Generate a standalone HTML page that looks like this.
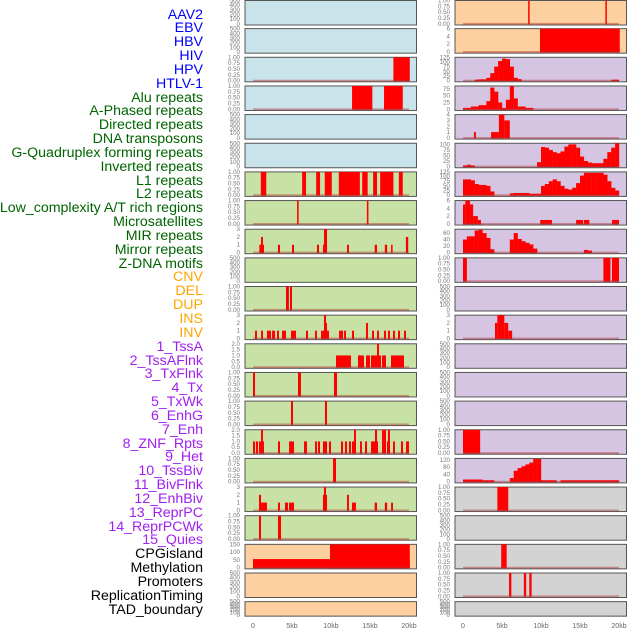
<!DOCTYPE html>
<html><head><meta charset="utf-8">
<style>
html,body{margin:0;padding:0;background:#fff;}
#wrap{position:relative;width:630px;height:630px;overflow:hidden;font-family:"Liberation Sans",sans-serif;}
.lbl{position:absolute;right:427px;font-size:14.2px;line-height:14px;white-space:nowrap;}
svg{position:absolute;left:0;top:0;}
</style></head>
<body>
<div id="wrap">
<div id="labels"></div>
<svg id="chart" width="630" height="630"></svg>
</div>
<script>
// ---------- track labels ----------
const labelNames = ["AAV2","EBV","HBV","HIV","HPV","HTLV-1","Alu repeats","A-Phased repeats","Directed repeats","DNA transposons","G-Quadruplex forming repeats","Inverted repeats","L1 repeats","L2 repeats","Low_complexity A/T rich regions","Microsatellites","MIR repeats","Mirror repeats","Z-DNA motifs","CNV","DEL","DUP","INS","INV","1_TssA","2_TssAFlnk","3_TxFlnk","4_Tx","5_TxWk","6_EnhG","7_Enh","8_ZNF_Rpts","9_Het","10_TssBiv","11_BivFlnk","12_EnhBiv","13_ReprPC","14_ReprPCWk","15_Quies","CPGisland","Methylation","Promoters","ReplicationTiming","TAD_boundary"];
const labelGroups = [6,13,5,15,5];
const groupColors = ["#0000ff","#006400","#ffa500","#a020f0","#000000"];

// ---------- x axis ----------
const xTicks = [0,5,10,15,20];
const xTickLabels = ["0","5kb","10kb","15kb","20kb"];

// ---------- panel backgrounds ----------
const leftBg = ["blue","blue","blue","blue","blue","blue","green","green","green","green","green","green","green","green","green","green","green","green","green","orange","orange","orange"];
const rightBg = ["orange","orange","purple","purple","purple","purple","purple","purple","purple","purple","purple","purple","purple","purple","purple","purple","purple","gray","gray","gray","gray","gray"];

// ---------- left column segments [startKb, endKb, value] ----------
const L_HIV = [[18.0,20.1,1]];
const L_HPV = [[12.7,15.3,1],[16.8,19.2,1]];
const L_L1 = [[1.0,1.7,1],[6.3,6.8,1],[8.1,8.6,1],[9.2,10.1,1],[11.0,13.7,1],[14.0,14.7,1],[15.4,15.9,1],[16.3,18.0,1],[18.7,19.2,1]];
const L_L2 = [[5.65,5.85,1],[14.6,14.8,1]];
const L_MIR = [[0.81,1.41,1],[1.03,1.28,2],[3.2,3.46,1],[5.0,5.26,1],[8.2,8.46,1],[8.97,9.49,1],[9.1,9.49,3],[12.05,12.3,1],[15.6,15.9,1],[16.9,17.2,1],[17.7,17.9,1],[19.6,19.9,2]];
const L_ZDNA = [[4.23,4.6,1],[4.74,5.0,1]];
const L_CNV = [[0.26,0.51,1],[1.03,1.28,1],[1.79,2.31,1],[2.44,2.82,1],[3.08,3.33,1],[3.72,4.23,1],[4.87,5.51,1],[6.79,7.05,1],[7.95,8.2,1],[8.72,9.1,1],[9.1,9.36,3],[9.23,9.49,2],[9.49,9.74,1],[11.03,11.54,1],[11.67,11.92,1],[12.69,12.95,1],[14.49,14.74,2],[15.26,15.51,1],[15.9,16.15,1],[16.79,17.05,1],[17.3,17.56,1],[17.95,18.2,1],[18.59,18.85,1],[19.36,19.62,1]];
const L_DEL = [[10.64,12.56,1],[13.46,14.23,1],[14.49,15.0,1],[15.13,16.41,1],[15.9,16.15,2],[16.54,17.05,1],[17.69,19.36,1]];
const L_DUP = [[0.0,0.26,1],[5.77,6.15,1],[10.38,10.77,1]];
const L_INS = [[4.87,5.13,1],[9.23,9.49,1]];
const L_INV = [[0.0,0.26,1],[0.38,0.64,1],[0.77,1.41,1],[1.03,1.28,2],[3.2,3.46,1],[4.62,5.26,1],[6.54,6.92,1],[7.95,8.2,1],[8.33,8.59,1],[8.97,9.49,1],[9.74,10.0,1],[11.28,11.54,1],[11.79,12.05,1],[12.3,12.56,1],[12.69,13.2,1],[12.95,13.2,2],[13.72,13.97,1],[14.36,14.62,1],[15.13,16.03,1],[15.64,15.9,2],[16.54,16.79,2],[16.79,17.05,2],[17.18,17.56,1],[17.3,17.56,2],[17.95,18.2,1],[18.97,19.23,1],[19.62,20.0,1]];
const L_TSSA = [[10.26,10.64,1]];
const L_TSSAF = [[0.77,1.03,2],[1.03,1.41,1],[1.41,1.79,1],[3.2,3.46,1],[4.1,4.49,1],[4.62,5.26,1],[8.97,9.49,2],[9.1,9.36,3],[12.05,12.3,2],[12.69,13.2,1],[15.6,15.9,1],[16.9,17.2,1],[17.7,17.95,1]];
const L_TXF = [[0.77,1.03,1],[3.2,3.59,1]];
const L_METH = [[0.0,20.1,55],[9.87,20.1,150]];

// ---------- right column segments ----------
const R_AAV2 = [[8.35,8.5,1],[18.25,18.4,1]];
const R_EBV = [[9.87,20.1,6]];
const R_HTLV = [[1.4,1.66,1],[3.6,4.6,1],[4.6,5.3,4],[5.3,6.0,3]];
const R_LOWC = [[0.0,0.3,5],[0.3,0.9,6],[0.9,1.3,5],[1.3,1.9,2],[1.9,2.3,1],[9.9,11.4,1],[14.5,15.4,1],[15.5,16.2,1],[19.1,20.0,1]];
const R_MIRROR = [[0.0,0.5,1],[18.0,18.9,1],[19.1,20.0,1]];
const R_CNV = [[4.1,4.4,2],[4.4,5.3,3],[5.3,5.8,2],[5.8,6.3,1]];
const R_ENH = [[0.0,2.2,1]];
const R_BIVF = [[4.4,5.8,1]];
const R_CPG = [[4.9,5.6,1]];
const R_PROM = [[5.9,6.2,1],[7.8,8.1,1],[8.5,8.8,1]];

// ---------- right column binned profiles (0.5kb bins, 0..20kb) ----------
const R_HIV_bins = [0,0,0,5,7,7,15,40,75,105,118,115,75,15,8,0,0,0,0,0,0,0,0,0,0,0,0,0,0,0,0,0,0,0,0,0,0,0,5,5];
const R_HPV_bins = [5,5,10,10,15,15,30,80,65,25,5,35,85,40,10,10,5,5,0,0,0,0,0,0,0,0,0,0,0,0,0,0,0,0,0,0,0,0,0,0];
const R_GQ_bins = [5,8,5,0,0,0,0,0,0,0,0,0,0,0,0,0,0,0,0,20,88,85,75,65,60,68,90,100,100,85,45,25,18,15,15,15,35,65,85,105];
const R_L1_bins = [85,85,80,60,55,55,50,20,0,0,0,0,10,12,12,12,12,8,8,8,50,60,75,85,75,50,35,30,40,65,105,120,120,120,120,120,110,75,40,25];
const R_MIR_bins = [40,50,50,68,70,60,45,10,0,0,0,0,40,60,42,35,30,25,12,0,0,0,0,0,0,0,0,0,0,0,0,8,6,0,0,0,0,0,0,0];
const R_TSSBIV_bins = [12,12,12,12,12,8,8,8,0,0,0,0,20,60,75,85,95,105,125,125,8,8,8,8,0,8,8,8,8,8,8,8,8,8,8,8,8,8,8,8];

// ---------- y axis tick sets ----------
const ticksEmpty = [0,100,200,300,400,500];
const ticksOne = [0,0.25,0.5,0.75,1];
const ticksThree = [0,1,2,3];
const ticksTwo = [0,0.5,1,1.5,2];

const leftPanels = [
 [null,500,ticksEmpty,0],[null,500,ticksEmpty,0],[L_HIV,1,ticksOne,2],[L_HPV,1,ticksOne,2],[null,500,ticksEmpty,0],[null,500,ticksEmpty,0],
 [L_L1,1,ticksOne,2],[L_L2,1,ticksOne,2],[L_MIR,3,ticksThree,0],[null,500,ticksEmpty,0],[L_ZDNA,1,ticksOne,2],
 [L_CNV,3,ticksThree,0],[L_DEL,2,ticksTwo,1],[L_DUP,1,ticksOne,2],[L_INS,1,ticksOne,2],[L_INV,2,ticksTwo,1],
 [L_TSSA,1,ticksOne,2],[L_TSSAF,3,ticksThree,0],[L_TXF,1,ticksOne,2],[L_METH,150,[0,50,100,150],0],[null,500,ticksEmpty,0],[null,500,ticksEmpty,0]
];
const rightPanels = [
 [R_AAV2,1,ticksOne,2],[R_EBV,6,[0,2,4,6],0],[R_HIV_bins,125,[0,25,50,75,100,125],0,true],[R_HPV_bins,86,[0,25,50,75],0,true],
 [R_HTLV,4,[0,1,2,3,4],0],[R_GQ_bins,105,[0,25,50,75,100],0,true],[R_L1_bins,125,[0,25,50,75,100,125],0,true],
 [R_LOWC,6,[0,2,4,6],0],[R_MIR_bins,72,[0,20,40,60],0,true],[R_MIRROR,1,ticksOne,2],[null,500,ticksEmpty,0],
 [R_CNV,3,ticksThree,0],[null,500,ticksEmpty,0],[null,500,ticksEmpty,0],[null,500,ticksEmpty,0],[R_ENH,1,ticksOne,2],
 [R_TSSBIV_bins,128,[0,40,80,120],0,true],[R_BIVF,1,ticksOne,2],[null,500,ticksEmpty,0],[R_CPG,1,ticksOne,2],[R_PROM,1,ticksOne,2],[null,500,ticksEmpty,0]
];

const bgColors = {blue:"#c8e3ea",green:"#c8e2a6",orange:"#ffd09f",purple:"#d5c5e2",gray:"#d3d3d3"};
const NS = "http://www.w3.org/2000/svg";
const svg = document.getElementById("chart");

const labelsDiv = document.getElementById("labels");
let gi = 0, gc = 0;
labelNames.forEach((t,i)=>{
  const d = document.createElement("div");
  d.className = "lbl";
  d.textContent = t;
  d.style.top = (15 + i*13.84 - 7.5) + "px";
  d.style.color = groupColors[gi];
  
  
  labelsDiv.appendChild(d);
  gc++; if (gc >= labelGroups[gi]) { gi++; gc = 0; }
});

function el(tag, attrs){ const e = document.createElementNS(NS, tag); for (const k in attrs) e.setAttribute(k, attrs[k]); return e; }

function drawPanel(def, bg, row, colX, dataX0){
  const top = row === 0 ? 0.5 : row*28.65;
  const h = row === 21 ? 14.5 : 24.5;
  const bottom = top + h;
  const g = el("g", {});
  
  
  svg.appendChild(g);
  const rect = el("rect", {x: colX, y: top, width: 171.5, height: h, fill: bgColors[bg], stroke: "#555", "stroke-width": 1});
  
  
  g.appendChild(rect);
  const [data, yMax, ticks, dec, binned] = def;
  const xs = kb => dataX0 + kb*7.8;
  const ys = v => bottom - 1.2 - v/yMax*(h - 1.2);
  ticks.forEach(tv=>{
    const t = el("text", {x: colX - 5, y: ys(tv) + 2, "text-anchor": "end", "font-size": 6.2, fill: "#777", "font-family": "Liberation Sans, sans-serif"});
    t.textContent = tv.toFixed(dec);
    
    
    g.appendChild(t);
  });
  if (!data) return;
  if (binned) {
    data.forEach((v,i)=>{
      if (v <= 0) return;
      const r = el("rect", {x: xs(i*0.5), y: ys(v), width: 0.5*7.8 + 0.2, height: ys(0) - ys(v) + 0.5, fill: "#ff0000"});
      
      
      g.appendChild(r);
    });
  } else {
    data.forEach(s=>{
      const w = Math.max(1.5, xs(s[1]) - xs(s[0]));
      const r = el("rect", {x: xs(s[0]), y: ys(s[2]), width: w, height: ys(0) - ys(s[2]) + 0.5, fill: "#ff0000"});
      
      
      g.appendChild(r);
    });
  }
  const base = el("line", {x1: xs(0), x2: xs(20), y1: ys(0), y2: ys(0), stroke: "#b03030", "stroke-opacity": 0.45, "stroke-width": 1.8});
  
  
  g.appendChild(base);
}

leftPanels.forEach((d,i)=>drawPanel(d, leftBg[i], i, 245, 253));
rightPanels.forEach((d,i)=>drawPanel(d, rightBg[i], i, 455, 463));

[253, 463].forEach(x0=>{
  xTicks.forEach((k,i)=>{
    const t = el("text", {x: x0 + k*7.8, y: 628, "text-anchor": "middle", "font-size": 7, fill: "#666", "font-family": "Liberation Sans, sans-serif"});
    t.textContent = xTickLabels[i];
    
    
    svg.appendChild(t);
  });
});
</script>
</body></html>
